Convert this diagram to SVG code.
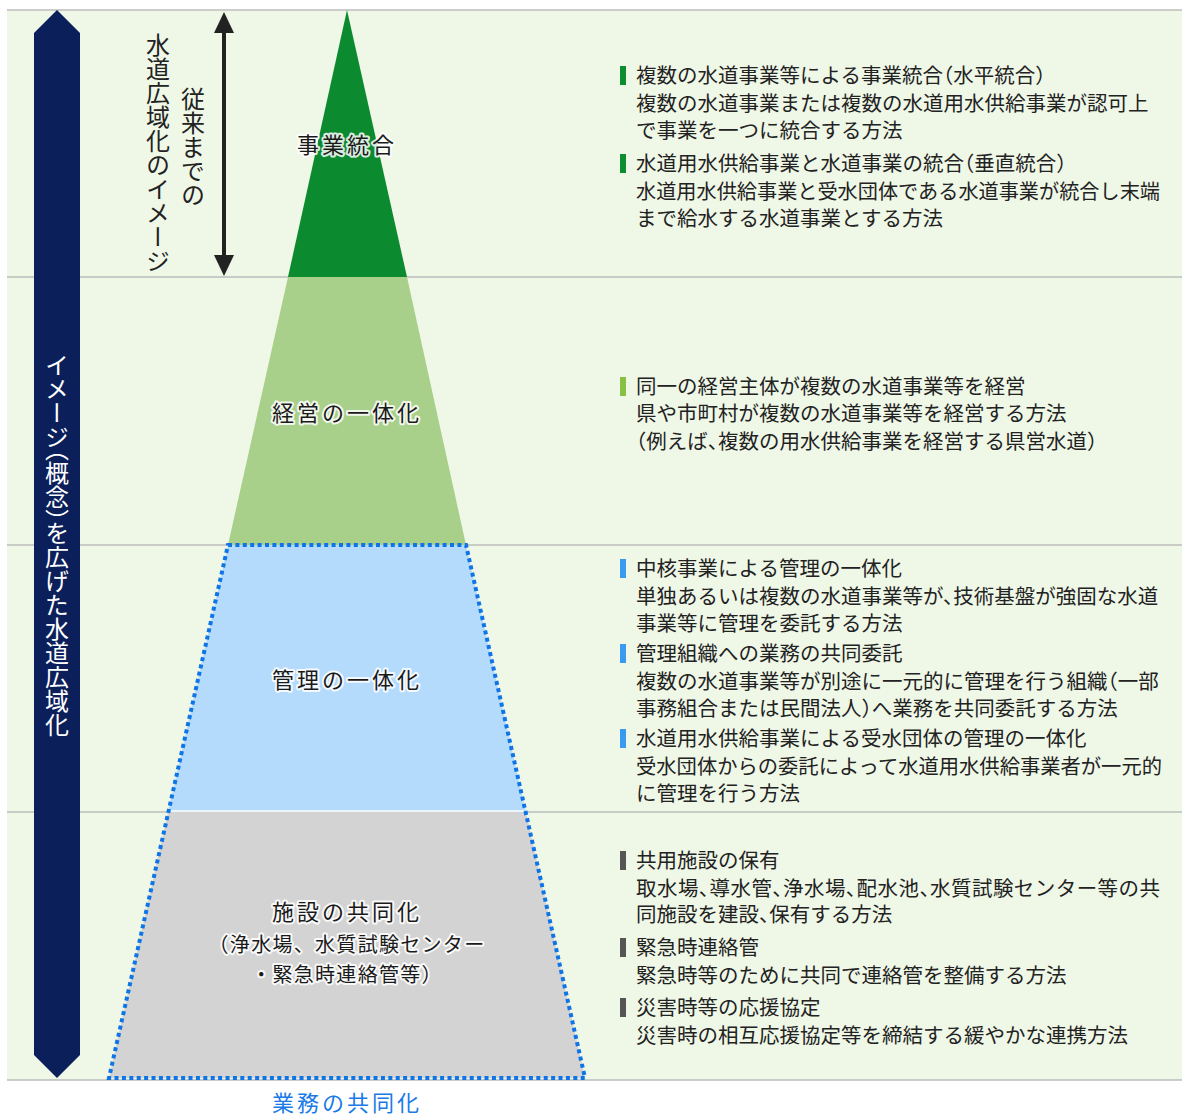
<svg xmlns="http://www.w3.org/2000/svg" width="1182" height="1115" viewBox="0 0 1182 1115">
<style>
text{font-family:"Noto Sans CJK JP","Noto Sans CJK SC",sans-serif;}
.lbl{font-size:22px;fill:#1a1a1a;text-anchor:middle;letter-spacing:3px;stroke:#fff;stroke-width:4px;stroke-opacity:.85;paint-order:stroke;stroke-linejoin:round;}
.sub{font-size:20px;letter-spacing:1.3px;}
.t{font-size:20.5px;fill:#222;font-feature-settings:"halt";}
.sep{stroke:#bdbdbd;stroke-width:1.5;}
.vt{writing-mode:vertical-rl;text-anchor:middle;font-size:24px;}
.vh{font-feature-settings:"vhal";}
</style>
<rect x="7" y="10" width="1175" height="1070" fill="#eff7e7"/>
<g id="separators">
<line class="sep" x1="7" y1="10" x2="1182" y2="10"/>
<line class="sep" x1="7" y1="277" x2="1182" y2="277"/>
<line class="sep" x1="7" y1="545" x2="1182" y2="545"/>
<line class="sep" x1="7" y1="812" x2="1182" y2="812"/>
<line class="sep" x1="7" y1="1080" x2="1182" y2="1080"/>
</g>
<g id="image-arrow">
<polygon points="57,10 80,33 80,1055 57,1078 34,1055 34,33" fill="#0b1f5b"/>
<text class="vt vh" x="57" y="545" fill="#fff">イメージ（概念）を広げた水道広域化</text>
</g>
<g id="traditional">
<text class="vt" x="158" y="153" fill="#222">水道広域化のイメージ</text>
<text class="vt" x="193" y="147" fill="#222">従来までの</text>
<line x1="224" y1="28" x2="224" y2="260" stroke="#222" stroke-width="4"/>
<polygon points="224,12 234,33 214,33" fill="#222"/>
<polygon points="224,276 234,255 214,255" fill="#222"/>
</g>
<g id="level1">
<polygon points="347,10 407,277 288,277" fill="#0b8a30"/>
<text class="lbl" x="347" y="153">事業統合</text>
</g>
<g id="level2">
<polygon points="288,277 407,277 466,545 228,545" fill="#a9d08a"/>
<text class="lbl" x="347" y="421">経営の一体化</text>
</g>
<g id="level3">
<polygon points="228,545 466,545 526,812 168,812" fill="#b4dbfc"/>
<text class="lbl" x="347" y="688">管理の一体化</text>
</g>
<g id="level4">
<polygon points="168,812 526,812 585,1078 109,1078" fill="#d3d3d3"/>
<line x1="170" y1="811" x2="524" y2="811" stroke="#fff" stroke-width="1.5"/>
<text class="lbl" x="347" y="920">施設の共同化</text>
<text class="lbl sub" x="347" y="952">（浄水場、水質試験センター</text>
<text class="lbl sub" x="347" y="982">・緊急時連絡管等）</text>
</g>
<g id="joint-work">
<polygon points="228,545 466,545 585,1078 109,1078" fill="none" stroke="#0f74e6" stroke-width="4" stroke-dasharray="4 3.4"/>
<text x="347" y="1111" font-size="22" fill="#1a7ae6" text-anchor="middle" letter-spacing="3">業務の共同化</text>
</g>
<g id="desc1">
<rect x="620" y="66" width="6" height="19" fill="#0d8c30"/>
<text class="t" x="636" y="83">複数の水道事業等による事業統合（水平統合）</text>
<text class="t" x="636" y="111">複数の水道事業または複数の水道用水供給事業が認可上</text>
<text class="t" x="636" y="138">で事業を一つに統合する方法</text>
<rect x="620" y="154" width="6" height="19" fill="#0d8c30"/>
<text class="t" x="636" y="171">水道用水供給事業と水道事業の統合（垂直統合）</text>
<text class="t" x="636" y="199" textLength="524" lengthAdjust="spacingAndGlyphs">水道用水供給事業と受水団体である水道事業が統合し末端</text>
<text class="t" x="636" y="226">まで給水する水道事業とする方法</text>
</g>
<g id="desc2">
<rect x="620" y="377" width="6" height="19" fill="#86c145"/>
<text class="t" x="636" y="394">同一の経営主体が複数の水道事業等を経営</text>
<text class="t" x="636" y="421">県や市町村が複数の水道事業等を経営する方法</text>
<text class="t" x="636" y="449">（例えば、複数の用水供給事業を経営する県営水道）</text>
</g>
<g id="desc3">
<rect x="620" y="559" width="6" height="19" fill="#3a9af0"/>
<text class="t" x="636" y="576">中核事業による管理の一体化</text>
<text class="t" x="636" y="604">単独あるいは複数の水道事業等が、技術基盤が強固な水道</text>
<text class="t" x="636" y="631">事業等に管理を委託する方法</text>
<rect x="620" y="644" width="6" height="19" fill="#3a9af0"/>
<text class="t" x="636" y="661">管理組織への業務の共同委託</text>
<text class="t" x="636" y="689">複数の水道事業等が別途に一元的に管理を行う組織（一部</text>
<text class="t" x="636" y="716">事務組合または民間法人）へ業務を共同委託する方法</text>
<rect x="620" y="729" width="6" height="19" fill="#3a9af0"/>
<text class="t" x="636" y="746">水道用水供給事業による受水団体の管理の一体化</text>
<text class="t" x="636" y="774" textLength="526" lengthAdjust="spacingAndGlyphs">受水団体からの委託によって水道用水供給事業者が一元的</text>
<text class="t" x="636" y="801">に管理を行う方法</text>
</g>
<g id="desc4">
<rect x="620" y="851" width="6" height="19" fill="#555"/>
<text class="t" x="636" y="868">共用施設の保有</text>
<text class="t" x="636" y="896" textLength="524" lengthAdjust="spacing">取水場、導水管、浄水場、配水池、水質試験センター等の共</text>
<text class="t" x="636" y="922">同施設を建設、保有する方法</text>
<rect x="620" y="938" width="6" height="19" fill="#555"/>
<text class="t" x="636" y="955">緊急時連絡管</text>
<text class="t" x="636" y="983">緊急時等のために共同で連絡管を整備する方法</text>
<rect x="620" y="998" width="6" height="19" fill="#555"/>
<text class="t" x="636" y="1015">災害時等の応援協定</text>
<text class="t" x="636" y="1043">災害時の相互応援協定等を締結する緩やかな連携方法</text>
</g>
</svg>
